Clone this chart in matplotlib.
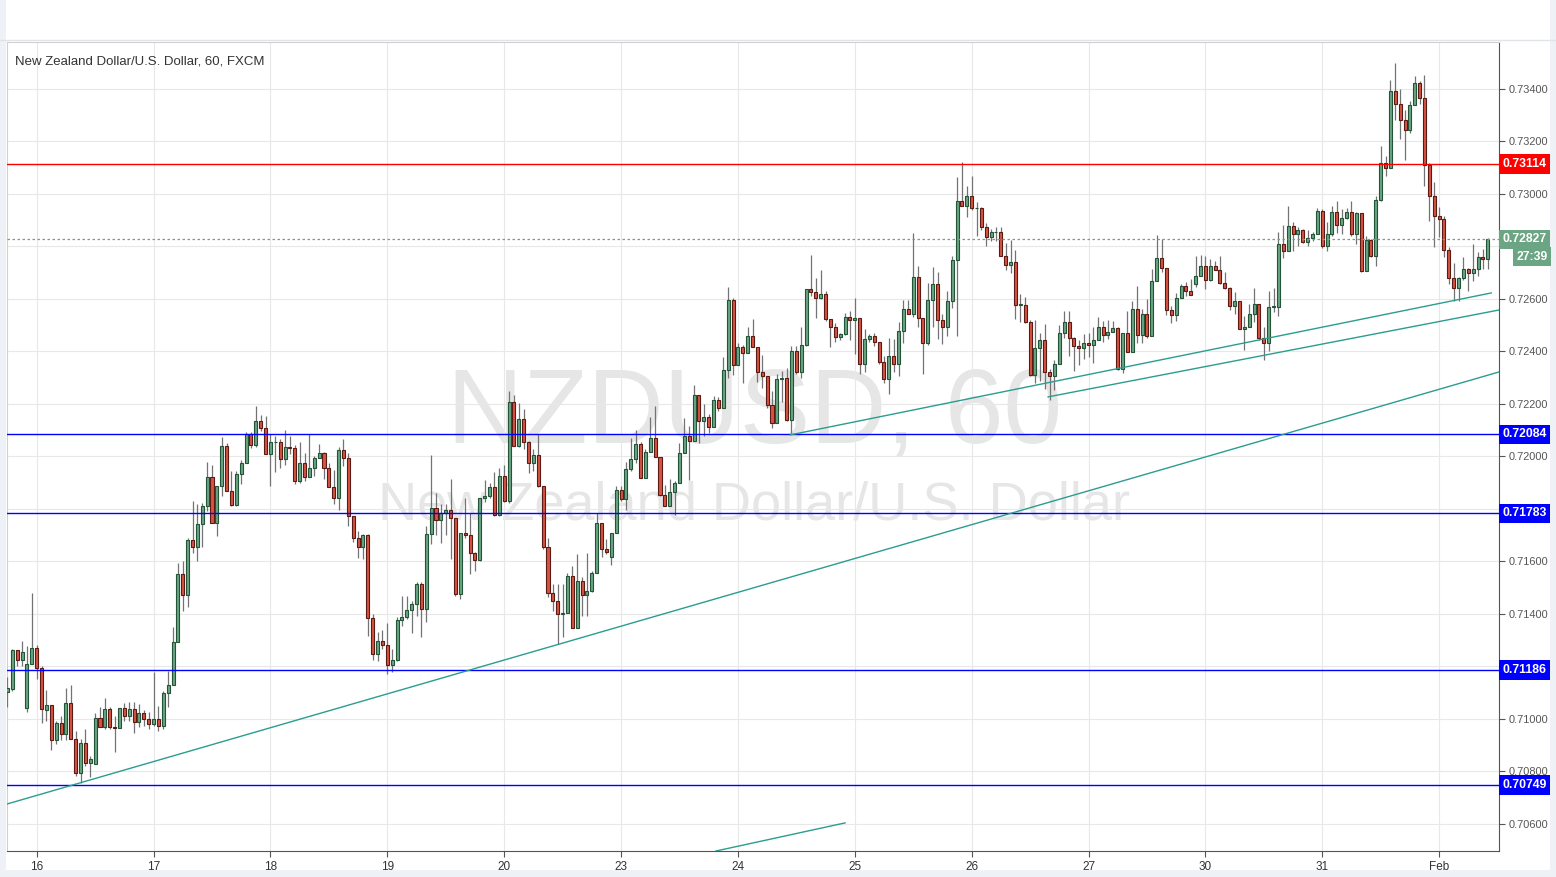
import numpy as np
import matplotlib
matplotlib.use("Agg")
import matplotlib.pyplot as plt
import matplotlib.transforms as mtransforms

plt.rcParams['font.family'] = ['Liberation Sans', 'DejaVu Sans']

# NZDUSD hourly candles, prices in 1e-5 units
opens = [
    71102, 71116, 71262, 71224, 71041, 71209, 71270, 71194, 71036, 71053,
    70918, 70983, 70941, 71060, 70922, 70795, 70910, 70833, 70830, 71003,
    70971, 71037, 70971, 70965, 71042, 71010, 71038, 70987, 71023, 71000,
    70981, 71000, 70972, 71099, 71131, 71295, 71552, 71471, 71682, 71654,
    71743, 71811, 71923, 71745, 71889, 72040, 71870, 71815, 71933, 71977,
    72086, 72044, 72137, 72109, 72010, 72054, 72055, 71990, 72037, 72032,
    71908, 71975, 71921, 71956, 71996, 72013, 71956, 71885, 71842, 72025,
    71994, 71775, 71690, 71654, 71701, 71385, 71248, 71298, 71282, 71206,
    71226, 71377, 71390, 71416, 71438, 71514, 71419, 71705, 71804, 71758,
    71785, 71797, 71766, 71476, 71709, 71701, 71632, 71606, 71842, 71851,
    71885, 71777, 71927, 71829, 72209, 72039, 72143, 72054, 71974, 72007,
    71886, 71654, 71480, 71451, 71400, 71404, 71546, 71347, 71527, 71472,
    71489, 71556, 71747, 71648, 71616, 71707, 71874, 71838, 71952, 71989,
    72048, 71917, 72016, 72069, 71999, 71853, 71813, 71863, 71898, 72012,
    72078, 72060, 72234, 72137, 72152, 72114, 72215, 72186, 72330, 72596,
    72349, 72416, 72396, 72459, 72416, 72321, 72305, 72197, 72128, 72295,
    72299, 72139, 72402, 72323, 72426, 72638, 72625, 72604, 72619, 72524,
    72492, 72454, 72467, 72533, 72521, 72529, 72352, 72448, 72460, 72435,
    72359, 72295, 72384, 72352, 72479, 72562, 72543, 72685, 72528, 72432,
    72597, 72657, 72520, 72492, 72594, 72749, 72975, 72953, 72994, 72945,
    72947, 72873, 72835, 72854, 72854, 72765, 72730, 72739, 72578, 72578,
    72512, 72312, 72414, 72444, 72321, 72305, 72353, 72471, 72514, 72452,
    72420, 72413, 72433, 72425, 72442, 72495, 72463, 72476, 72490, 72334,
    72471, 72397, 72563, 72464, 72543, 72458, 72670, 72757, 72719, 72559,
    72540, 72604, 72651, 72630, 72657, 72686, 72724, 72673, 72724, 72711,
    72662, 72643, 72575, 72594, 72486, 72495, 72543, 72581, 72451, 72432,
    72571, 72571, 72810, 72782, 72879, 72848, 72863, 72816, 72832, 72848,
    72937, 72801, 72848, 72933, 72882, 72909, 72933, 72848, 72926, 72708,
    72825, 72765, 72978, 73118, 73099, 73394, 73343, 73282, 73244, 73339,
    73423, 73366, 73112, 72994, 72917, 72905, 72788, 72680, 72642, 72680,
    72714, 72699, 72714, 72761, 72752]

highs = [
    71161, 71265, 71262, 71298, 71279, 71480, 71283, 71203, 71111, 71053,
    70992, 71011, 71117, 71129, 70955, 70925, 70960, 70859, 71024, 71045,
    71078, 71046, 71010, 71042, 71060, 71066, 71063, 71057, 71036, 71025,
    71180, 71051, 71108, 71184, 71352, 71594, 71603, 71688, 71832, 71819,
    71821, 71980, 71969, 71889, 72076, 72053, 71946, 71946, 71985, 72092,
    72092, 72194, 72159, 72155, 72086, 72079, 72066, 72101, 72079, 72044,
    72057, 72013, 72086, 72000, 72048, 72016, 71974, 71950, 72035, 72067,
    72013, 71775, 71717, 71705, 71705, 71400, 71333, 71340, 71366, 71268,
    71387, 71467, 71470, 71451, 71520, 71520, 71737, 72007, 71861, 71820,
    71820, 71914, 71766, 71709, 71842, 71785, 71635, 71842, 71910, 71899,
    71942, 71956, 71968, 72251, 72233, 72203, 72181, 72058, 72029, 72086,
    71886, 71690, 71514, 71514, 71514, 71555, 71584, 71627, 71540, 71632,
    71565, 71785, 71747, 71686, 71707, 71889, 71889, 71980, 72069, 72101,
    72054, 72029, 72152, 72192, 71999, 71890, 71913, 71905, 72050, 72145,
    72116, 72272, 72234, 72200, 72161, 72230, 72225, 72380, 72647, 72602,
    72431, 72425, 72495, 72522, 72416, 72387, 72305, 72248, 72314, 72327,
    72337, 72422, 72422, 72495, 72638, 72769, 72680, 72712, 72632, 72524,
    72508, 72471, 72546, 72556, 72604, 72529, 72486, 72467, 72470, 72435,
    72381, 72450, 72447, 72514, 72597, 72597, 72851, 72727, 72528, 72659,
    72721, 72702, 72543, 72632, 72762, 73063, 73121, 73029, 73067, 72971,
    72952, 72889, 72867, 72873, 72875, 72812, 72825, 72787, 72620, 72607,
    72520, 72520, 72470, 72503, 72333, 72368, 72501, 72556, 72556, 72457,
    72444, 72467, 72470, 72495, 72530, 72518, 72521, 72518, 72492, 72471,
    72556, 72591, 72651, 72560, 72600, 72715, 72842, 72827, 72719, 72575,
    72622, 72657, 72664, 72675, 72763, 72768, 72763, 72753, 72746, 72762,
    72702, 72645, 72626, 72594, 72534, 72581, 72642, 72581, 72495, 72629,
    72642, 72857, 72883, 72956, 72892, 72876, 72867, 72863, 72854, 72945,
    72943, 72892, 72953, 72972, 72943, 72947, 72975, 72930, 72926, 72841,
    72829, 72991, 73184, 73146, 73436, 73499, 73400, 73321, 73354, 73448,
    73432, 73455, 73118, 73045, 72949, 72917, 72797, 72737, 72683, 72759,
    72718, 72809, 72780, 72790, 72831]

lows = [
    71046, 71108, 71203, 71203, 71028, 71209, 71154, 70986, 70992, 70880,
    70905, 70918, 70918, 70922, 70782, 70757, 70820, 70778, 70830, 70971,
    70963, 70963, 70875, 70965, 70993, 70993, 70945, 70968, 70975, 70960,
    70975, 70956, 70962, 71044, 71131, 71295, 71410, 71428, 71631, 71603,
    71654, 71793, 71745, 71698, 71848, 71870, 71811, 71813, 71895, 71977,
    72032, 72035, 72098, 72010, 71886, 71940, 71955, 71967, 72010, 71895,
    71899, 71908, 71921, 71925, 71996, 71914, 71885, 71819, 71796, 71962,
    71737, 71673, 71613, 71610, 71317, 71225, 71222, 71267, 71171, 71178,
    71222, 71355, 71380, 71328, 71393, 71311, 71368, 71667, 71700, 71670,
    71700, 71610, 71470, 71457, 71688, 71552, 71563, 71600, 71826, 71842,
    71775, 71775, 71825, 71821, 72039, 72035, 72029, 71937, 71945, 71882,
    71648, 71463, 71410, 71286, 71311, 71404, 71347, 71347, 71393, 71391,
    71485, 71556, 71616, 71628, 71586, 71707, 71829, 71796, 71945, 71976,
    71917, 71917, 72016, 71999, 71849, 71813, 71813, 71777, 71898, 72012,
    71910, 72060, 72053, 72077, 72089, 72114, 72175, 72186, 72298, 72311,
    72349, 72279, 72396, 72416, 72283, 72260, 72184, 72107, 72128, 72206,
    72134, 72090, 72316, 72298, 72422, 72610, 72526, 72600, 72518, 72416,
    72435, 72442, 72463, 72442, 72390, 72314, 72321, 72435, 72422, 72352,
    72279, 72238, 72320, 72308, 72432, 72543, 72530, 72492, 72314, 72425,
    72495, 72448, 72429, 72460, 72565, 72460, 72953, 72914, 72939, 72839,
    72864, 72800, 72822, 72822, 72765, 72709, 72699, 72524, 72512, 72508,
    72308, 72279, 72289, 72258, 72216, 72254, 72353, 72452, 72381, 72324,
    72349, 72372, 72378, 72357, 72442, 72438, 72448, 72473, 72330, 72318,
    72397, 72397, 72433, 72433, 72451, 72458, 72670, 72703, 72540, 72508,
    72516, 72603, 72613, 72616, 72646, 72686, 72639, 72670, 72711, 72657,
    72638, 72559, 72543, 72486, 72406, 72495, 72511, 72443, 72368, 72400,
    72550, 72537, 72756, 72782, 72784, 72800, 72812, 72800, 72822, 72848,
    72795, 72781, 72841, 72851, 72847, 72905, 72841, 72811, 72702, 72708,
    72759, 72727, 72975, 73067, 73099, 73282, 73210, 73131, 73232, 73339,
    73343, 73032, 72898, 72797, 72836, 72759, 72657, 72591, 72594, 72673,
    72632, 72670, 72688, 72714, 72714]

closes = [
    71117, 71262, 71224, 71256, 71209, 71270, 71194, 71037, 71052, 70918,
    70983, 70941, 71060, 70922, 70795, 70910, 70833, 70846, 71003, 70971,
    71037, 70971, 70965, 71042, 71011, 71038, 70987, 71023, 71000, 70981,
    71000, 70972, 71099, 71131, 71295, 71552, 71471, 71682, 71654, 71743,
    71811, 71923, 71745, 71889, 72040, 71870, 71815, 71933, 71977, 72086,
    72044, 72137, 72109, 72010, 72054, 72055, 71990, 72037, 72032, 71908,
    71975, 71921, 71956, 71996, 72013, 71956, 71885, 71842, 72025, 71994,
    71775, 71690, 71654, 71701, 71385, 71248, 71298, 71282, 71206, 71226,
    71377, 71390, 71416, 71438, 71514, 71419, 71705, 71804, 71758, 71785,
    71797, 71766, 71476, 71709, 71701, 71632, 71606, 71842, 71851, 71885,
    71777, 71927, 71829, 72209, 72039, 72143, 72054, 71974, 72007, 71886,
    71654, 71480, 71451, 71400, 71404, 71546, 71347, 71527, 71472, 71489,
    71556, 71747, 71648, 71635, 71707, 71874, 71838, 71952, 71989, 72048,
    71917, 72016, 72069, 71999, 71853, 71813, 71863, 71898, 72012, 72078,
    72060, 72234, 72137, 72152, 72114, 72215, 72186, 72330, 72596, 72349,
    72416, 72396, 72459, 72416, 72321, 72305, 72197, 72128, 72295, 72299,
    72139, 72402, 72323, 72426, 72638, 72625, 72604, 72619, 72524, 72492,
    72454, 72467, 72533, 72521, 72529, 72352, 72448, 72460, 72435, 72359,
    72295, 72384, 72352, 72479, 72562, 72543, 72685, 72528, 72432, 72597,
    72657, 72520, 72492, 72594, 72749, 72975, 72953, 72994, 72945, 72947,
    72873, 72835, 72857, 72854, 72765, 72730, 72739, 72578, 72578, 72512,
    72312, 72414, 72444, 72321, 72305, 72353, 72471, 72514, 72452, 72420,
    72413, 72433, 72425, 72442, 72495, 72463, 72476, 72490, 72334, 72471,
    72397, 72563, 72464, 72543, 72458, 72670, 72757, 72719, 72559, 72540,
    72604, 72651, 72630, 72616, 72686, 72724, 72673, 72724, 72711, 72662,
    72643, 72575, 72594, 72486, 72495, 72543, 72581, 72451, 72432, 72571,
    72571, 72810, 72782, 72879, 72848, 72863, 72816, 72832, 72848, 72937,
    72801, 72848, 72933, 72882, 72909, 72933, 72848, 72926, 72708, 72825,
    72765, 72978, 73118, 73099, 73394, 73343, 73282, 73244, 73339, 73423,
    73366, 73112, 72994, 72917, 72905, 72788, 72680, 72642, 72680, 72714,
    72699, 72714, 72761, 72752, 72827]

# day labels: first midnight is candle 6, 24 candles a day
day_labels = ['16', '17', '18', '19', '20', '23', '24', '25', '26', '27', '30', '31', 'Feb']
first_midnight = 6
candles_per_day = 24

# horizontal levels
level_values = [0.73114, 0.72084, 0.71783, 0.71186, 0.70749]
level_colors = ['#ff0000', '#0000ff', '#0000ff', '#0000ff', '#0000ff']

# trend lines: (candle, price) -> (candle, price)
trend_lines = [
    ((-0.1, 0.70676), (306.3, 0.72322)),
    ((160.7, 0.72082), (304.7, 0.72623)),
    ((213.7, 0.72227), (306.3, 0.72558)),
    ((145.5, 0.70497), (172.0, 0.70604)),
]

last_price = 0.72827
countdown = '27:39'
title = 'New Zealand Dollar/U.S. Dollar, 60, FXCM'
# axis prices covered by the coloured price boxes
hidden_ticks = ['0.71800', '0.71200', '0.72800']

o = np.array(opens) / 1e5
h = np.array(highs) / 1e5
l = np.array(lows) / 1e5
c = np.array(closes) / 1e5
idx = np.arange(len(o))
up = c >= o

fig = plt.figure(figsize=(15.56, 8.77), dpi=100, facecolor='white')
ax = fig.add_axes([7 / 1556, 1 - 851 / 877, 1492 / 1556, 809 / 877])
ax.set_facecolor('white')

# watermark
ax.text(0.501, 0.539, 'NZDUSD, 60', transform=ax.transAxes, ha='center', va='center',
        fontsize=76, color='#e6e6e6', zorder=0)
ax.text(0.501, 0.427, 'New Zealand Dollar/U.S. Dollar', transform=ax.transAxes,
        ha='center', va='center', fontsize=39, color='#e6e6e6', zorder=0)

# candles
body = np.maximum(np.abs(c - o), 0.00002)
bottom = np.minimum(o, c)
ax.vlines(idx, l, h, color='#737375', lw=0.9, zorder=3)
ax.bar(idx[up], body[up], bottom=bottom[up], width=0.62, color='#6ba583',
       edgecolor='#225437', lw=0.8, zorder=4)
ax.bar(idx[~up], body[~up], bottom=bottom[~up], width=0.62, color='#d75442',
       edgecolor='#5b1a13', lw=0.8, zorder=4)

for v, col in zip(level_values, level_colors):
    ax.axhline(v, color=col, lw=1, zorder=5)

for (x0, y0), (x1, y1) in trend_lines:
    ax.plot([x0, x1], [y0, y1], color='#2a9d8f', lw=1, zorder=5)

ax.axhline(last_price, color='#6ba583', lw=0.9, ls=(0, (2, 2)), zorder=5)

ax.set_xlim(-0.1, 306.3)
ax.set_ylim(0.70497, 0.73579)

yt = np.arange(0.7060, 0.73401, 0.0020)
ylabels = ['%.5f' % v for v in yt]
ylabels = ['' if s in hidden_ticks else s for s in ylabels]
ax.yaxis.tick_right()
ax.set_yticks(yt)
ax.set_yticklabels(ylabels)
xt = [first_midnight + candles_per_day * k for k in range(len(day_labels))]
ax.set_xticks(xt)
ax.set_xticklabels(day_labels)
ax.tick_params(axis='y', length=4, pad=3, labelsize=7.9, colors='#555555', labelcolor='#555555')
ax.tick_params(axis='x', length=4, pad=3, labelsize=8.5, colors='#555555', labelcolor='#333333')
ax.grid(True, color='#e8e8e8', lw=0.8, zorder=0)
ax.set_axisbelow(True)
for side in ['left', 'top']:
    ax.spines[side].set_color('#d0d0d0')
for side in ['right', 'bottom']:
    ax.spines[side].set_color('#555555')

ax.text(8 / 1492, 1 - 20 / 809, title, transform=ax.transAxes, ha='left', va='center',
        fontsize=9.5, color='#333333')

# price labels on the axis
tr = mtransforms.blended_transform_factory(ax.transAxes, ax.transData)
box_kw = dict(transform=tr, ha='left', va='center', fontsize=8.8, fontweight='bold',
              color='white', zorder=10, clip_on=False)
for v, col in zip(level_values, level_colors):
    ax.text(1.0022, v, '%.5f' % v,
            bbox=dict(boxstyle='square,pad=0.3', fc=col, ec='none'), **box_kw)
ax.text(1.0022, last_price, '%.5f' % last_price,
        bbox=dict(boxstyle='square,pad=0.3', fc='#6ba583', ec='none'), **box_kw)
ax.text(1.0325, last_price - 0.00066, countdown, transform=tr, ha='right', va='center',
        fontsize=8.8, fontweight='bold', color='white', zorder=10, clip_on=False,
        bbox=dict(boxstyle='square,pad=0.3', fc='#6ba583', ec='none'))

# frame pieces outside the chart
fig.patches.append(plt.Rectangle((0, 0), 6 / 1556, 1, transform=fig.transFigure,
                                 fc='#eef1f5', ec='none', zorder=-1))
fig.patches.append(plt.Rectangle((1550 / 1556, 0), 6 / 1556, 1, transform=fig.transFigure,
                                 fc='#eef1f5', ec='none', zorder=-1))
fig.patches.append(plt.Rectangle((0, 0), 1, 7 / 877, transform=fig.transFigure,
                                 fc='#eef1f5', ec='none', zorder=-1))
fig.lines.append(plt.Line2D([0, 1], [1 - 40 / 877, 1 - 40 / 877], transform=fig.transFigure,
                            color='#e0e3e8', lw=1))

fig.savefig('out.png', dpi=100, facecolor=fig.get_facecolor())
